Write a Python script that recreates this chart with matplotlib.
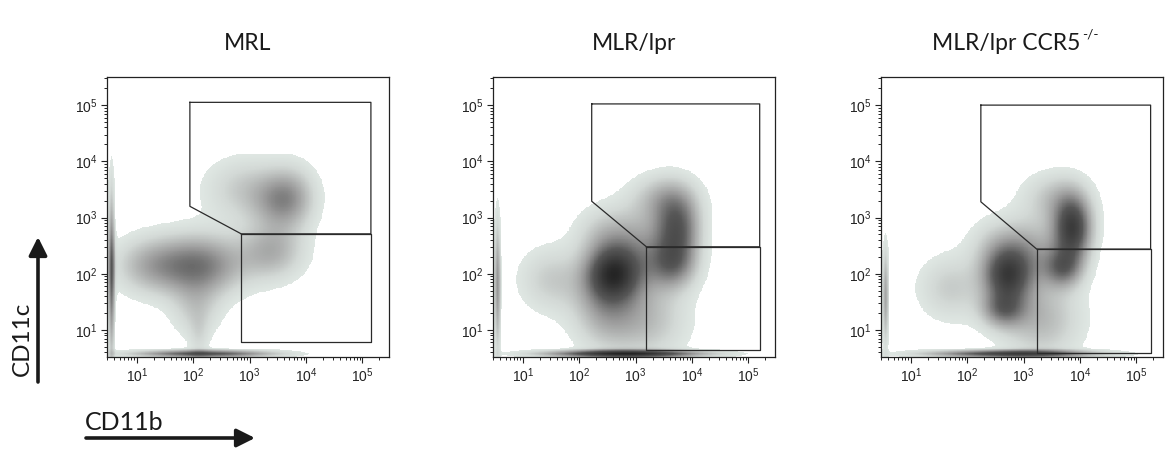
import numpy as np
import matplotlib
matplotlib.use('Agg')
from matplotlib import pyplot as plt
from matplotlib.colors import LinearSegmentedColormap, Normalize
from matplotlib.patches import FancyArrowPatch
from matplotlib.ticker import LogLocator, NullFormatter

plt.rcParams['font.family'] = ['Liberation Sans', 'DejaVu Sans']

titles = ['MRL', 'MLR/lpr', 'MLR/lpr CCR5']
title_sup = ['', '', '-/-']

# density components, log10 units: centre x, centre y, spread x, spread y, weight
mrl_cx = [2.1, 1.2, 3.55, 3.4, 2.9, 2.05, 2.1, 3.8, 0.55, 2.2]
mrl_cy = [2.15, 2.15, 3.3, 2.4, 3.5, 1.35, 0.85, 3.4, 2.0, 0.58]
mrl_sx = [0.55, 0.45, 0.35, 0.4, 0.5, 0.3, 0.12, 0.3, 0.04, 0.85]
mrl_sy = [0.38, 0.35, 0.35, 0.35, 0.4, 0.35, 0.3, 0.4, 1.0, 0.045]
mrl_w = [0.5, 0.25, 0.3, 0.3, 0.2, 0.18, 0.1, 0.15, 0.55, 0.65]

lpr_cx = [2.6, 2.45, 3.75, 3.65, 1.5, 3.5, 3.2, 3.0, 2.4, 0.55, 2.8]
lpr_cy = [2.0, 1.4, 2.8, 2.15, 1.9, 3.35, 1.2, 2.5, 2.7, 1.8, 0.58]
lpr_sx = [0.34, 0.4, 0.28, 0.3, 0.4, 0.4, 0.5, 0.45, 0.35, 0.04, 0.95]
lpr_sy = [0.33, 0.5, 0.42, 0.3, 0.4, 0.3, 0.5, 0.45, 0.35, 0.8, 0.045]
lpr_w = [0.68, 0.3, 0.55, 0.38, 0.2, 0.25, 0.25, 0.3, 0.15, 0.4, 0.85]

ccr_cx = [2.7, 2.63, 3.87, 3.7, 1.7, 3.55, 3.3, 3.1, 2.5, 0.55, 2.8]
ccr_cy = [1.95, 1.35, 2.8, 2.1, 1.75, 3.35, 1.2, 2.4, 2.5, 1.6, 0.58]
ccr_sx = [0.3, 0.27, 0.24, 0.24, 0.4, 0.4, 0.5, 0.4, 0.35, 0.04, 1.0]
ccr_sy = [0.34, 0.22, 0.4, 0.24, 0.4, 0.32, 0.5, 0.4, 0.35, 0.6, 0.045]
ccr_w = [0.65, 0.38, 0.75, 0.42, 0.2, 0.22, 0.28, 0.3, 0.15, 0.35, 0.75]

# gates (upper polygon, lower rectangle)
mrl_up_x = [87, 141000, 141000, 708, 87, 87]
mrl_up_y = [112000, 112000, 513, 513, 1585, 112000]
mrl_lo_x = [708, 141000, 141000, 708, 708]
mrl_lo_y = [513, 513, 6.2, 6.2, 513]

lpr_up_x = [166, 158000, 158000, 1549, 166, 166]
lpr_up_y = [105000, 105000, 302, 302, 1950, 105000]
lpr_lo_x = [1549, 158000, 158000, 1549, 1549]
lpr_lo_y = [302, 302, 4.4, 4.4, 302]

ccr_up_x = [174, 178000, 178000, 1700, 174, 174]
ccr_up_y = [100000, 100000, 275, 275, 1905, 100000]
ccr_lo_x = [1700, 178000, 178000, 1700, 1700]
ccr_lo_y = [275, 275, 3.9, 3.9, 275]

panels = [
    (mrl_cx, mrl_cy, mrl_sx, mrl_sy, mrl_w, mrl_up_x, mrl_up_y, mrl_lo_x, mrl_lo_y),
    (lpr_cx, lpr_cy, lpr_sx, lpr_sy, lpr_w, lpr_up_x, lpr_up_y, lpr_lo_x, lpr_lo_y),
    (ccr_cx, ccr_cy, ccr_sx, ccr_sy, ccr_w, ccr_up_x, ccr_up_y, ccr_lo_x, ccr_lo_y),
]

cmap = LinearSegmentedColormap.from_list('flow', [
    (0.0, '#dfe7e3'), (0.1, '#d3d9d6'), (0.35, '#9c9c9c'),
    (0.6, '#575757'), (1.0, '#222222')])
thr = 0.06
norm = Normalize(vmin=thr, vmax=1.0)

xlo, xhi = 0.47, 5.47
ylo, yhi = 0.52, 5.5
gx, gy = np.meshgrid(np.linspace(xlo, xhi, 350), np.linspace(ylo, yhi, 350))

fig = plt.figure(figsize=(11.65, 4.49), dpi=100)
lefts = [107 / 1165, 493 / 1165, 881 / 1165]
title_x = [248 / 1165, 634 / 1165, 932 / 1165]
title_ha = ['center', 'center', 'left']
tfont = ['Lato', 'DejaVu Sans']

for i, (cx, cy, sx, sy, w, ux, uy, lx, ly) in enumerate(panels):
    ax = fig.add_axes([lefts[i], 92 / 449, 282 / 1165, 280 / 449])
    d = np.zeros_like(gx)
    for a, b, s1, s2, ww in zip(cx, cy, sx, sy, w):
        d += ww * np.exp(-0.5 * (((gx - a) / s1) ** 2 + ((gy - b) / s2) ** 2))
    d = np.ma.masked_less(d, thr)
    ax.pcolormesh(10 ** gx, 10 ** gy, d, cmap=cmap, norm=norm, shading='auto', rasterized=True)
    ax.plot(ux, uy, color='#2a2a2a', lw=0.9)
    ax.plot(lx, ly, color='#2a2a2a', lw=0.9)
    ax.set_xscale('log')
    ax.set_yscale('log')
    ax.set_xlim(10 ** xlo, 10 ** xhi)
    ax.set_ylim(10 ** ylo, 10 ** yhi)
    for axis in (ax.xaxis, ax.yaxis):
        axis.set_major_locator(LogLocator(base=10, numticks=20))
        axis.set_minor_locator(LogLocator(base=10, subs=np.arange(2, 10), numticks=100))
        axis.set_minor_formatter(NullFormatter())
    ax.tick_params(which='major', length=4, width=0.8, pad=3, labelsize=10, colors='#222222')
    ax.tick_params(which='minor', length=2.2, width=0.6)
    for sp in ax.spines.values():
        sp.set_linewidth(0.9)
        sp.set_color('#222222')
    t = fig.text(title_x[i], 1 - 44 / 449, titles[i], ha=title_ha[i], va='center',
                 fontsize=16.5, family=tfont, color='#1a1a1a')
    if title_sup[i]:
        ax.annotate(title_sup[i], xy=(1, 0.95), xycoords=t, xytext=(1, 0),
                    textcoords='offset points', ha='left', va='center',
                    fontsize=10, family=tfont, color='#1a1a1a', annotation_clip=False)

fig.text(22 / 1165, 1 - 339 / 449, 'CD11c', rotation=90, ha='center', va='center',
         fontsize=17.5, family=tfont, color='#1a1a1a')
fig.text(124 / 1165, 1 - 423 / 449, 'CD11b', ha='center', va='center',
         fontsize=18, family=tfont, color='#1a1a1a')

arr_v = FancyArrowPatch((38 / 1165, 1 - 382 / 449), (38 / 1165, 1 - 237 / 449),
                        transform=fig.transFigure, arrowstyle='-|>,head_length=11,head_width=5.5',
                        mutation_scale=1, lw=2.6, color='#1a1a1a', shrinkA=0, shrinkB=0)
arr_h = FancyArrowPatch((86 / 1165, 1 - 438 / 449), (255 / 1165, 1 - 438 / 449),
                        transform=fig.transFigure, arrowstyle='-|>,head_length=11,head_width=5.5',
                        mutation_scale=1, lw=2.6, color='#1a1a1a', shrinkA=0, shrinkB=0)
fig.add_artist(arr_v)
fig.add_artist(arr_h)

fig.savefig('out.png', dpi=100)
